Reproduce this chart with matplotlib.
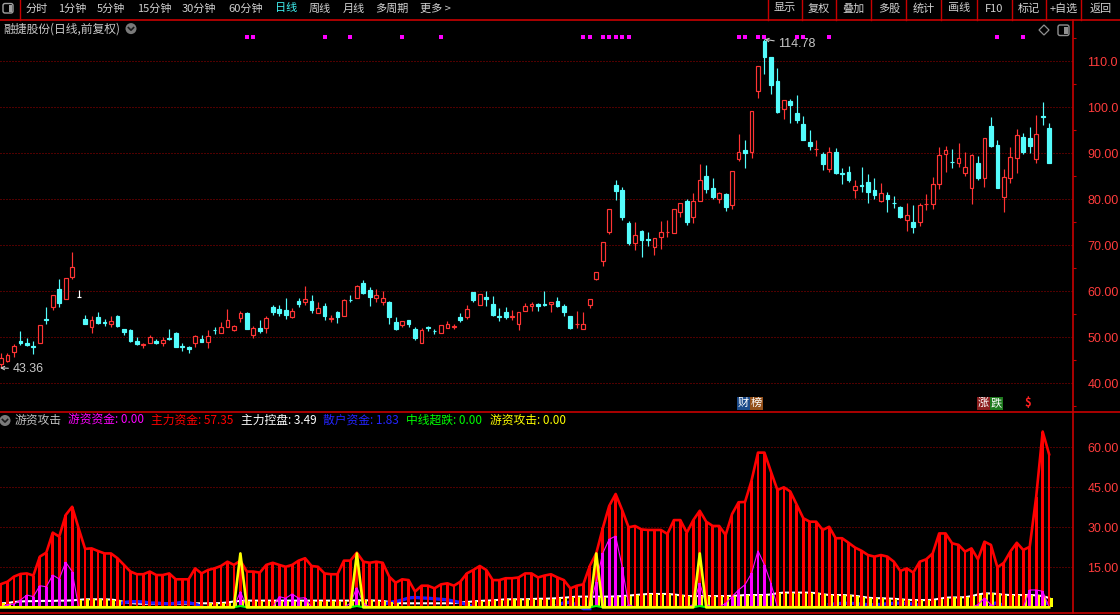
import numpy as np
import matplotlib
matplotlib.use("Agg")
import matplotlib.pyplot as plt
from matplotlib.patches import FancyBboxPatch, Circle, Polygon, Rectangle

plt.rcParams['font.family'] = ['Noto Sans CJK SC', 'DejaVu Sans']

# daily candles (前复权)
opens = [
    44.3, 44.9, 46.9, 49.2, 48.75, 48.1, 48.7, 54.0, 56.65, 60.5,
    58.4, 63.2, 58.7, 54.0, 52.2, 54.4, 53.3, 52.8, 54.6, 51.8,
    51.6, 49.3, 48.4, 48.7, 49.3, 48.8, 49.8, 50.9, 48.0, 47.9,
    48.8, 49.6, 49.05, 51.6, 51.0, 52.2, 51.65, 54.25, 55.3, 50.5,
    52.0, 52.1, 56.6, 56.15, 55.9, 54.4, 57.95, 57.6, 57.9, 55.35,
    56.8, 54.05, 55.5, 54.7, 58.2, 58.6, 61.7, 60.3, 58.6, 57.75,
    57.7, 53.3, 52.7, 53.7, 51.8, 48.7, 52.15, 51.35, 50.9, 52.1,
    52.3, 54.5, 54.5, 59.8, 56.95, 58.8, 57.25, 54.55, 55.5, 54.45,
    52.8, 55.8, 56.7, 57.2, 57.2, 57.2, 57.9, 56.7, 54.6, 52.8,
    51.7, 57.1, 62.75, 66.65, 72.95, 83.1, 82.0, 74.8, 70.4, 73.05,
    71.2, 69.55, 71.7, 72.8, 72.6, 77.3, 79.6, 76.1, 79.7, 85.05,
    82.45, 80.0, 81.15, 78.7, 88.7, 90.7, 90.2, 103.6, 114.5, 110.85,
    105.7, 99.7, 101.35, 98.75, 96.35, 92.45, 90.85, 89.8, 86.5, 90.2,
    85.6, 85.85, 82.1, 82.95, 83.8, 82.0, 79.7, 80.9, 79.15, 78.3,
    75.6, 75.0, 75.1, 78.9, 78.9, 83.4, 89.8, 88.2, 87.8, 85.8,
    82.4, 87.8, 84.7, 95.9, 91.8, 80.6, 84.7, 89.05, 93.5, 93.3,
    88.8, 98.0, 95.6,
]
highs = [
    46.5, 46.5, 48.5, 51.4, 49.9, 49.2, 52.6, 56.5, 59.1, 62.7,
    63.0, 68.5, 60.2, 54.85, 54.6, 55.5, 54.0, 54.55, 54.85, 51.8,
    51.8, 50.0, 48.7, 50.4, 49.6, 50.0, 51.7, 51.1, 48.7, 48.1,
    50.6, 50.6, 51.6, 52.2, 53.25, 56.1, 52.6, 55.7, 55.6, 52.45,
    53.7, 54.7, 57.0, 57.0, 58.5, 56.3, 58.5, 61.15, 59.2, 57.6,
    57.5, 54.85, 55.7, 58.25, 59.3, 61.4, 62.5, 60.9, 60.6, 60.1,
    57.9, 54.5, 53.5, 53.7, 52.2, 51.95, 52.5, 51.7, 52.6, 53.6,
    53.0, 55.35, 57.0, 59.9, 59.4, 60.1, 59.0, 56.3, 56.5, 55.9,
    55.5, 57.4, 57.6, 57.5, 60.1, 57.6, 58.7, 57.2, 54.6, 55.7,
    55.6, 58.25, 64.1, 70.65, 77.8, 84.2, 82.6, 75.35, 75.0, 73.3,
    72.9, 71.5, 75.3, 75.5, 78.0, 79.3, 80.0, 81.3, 87.7, 87.45,
    84.55, 81.6, 81.4, 86.1, 94.3, 92.9, 99.1, 108.9, 114.78, 110.85,
    108.5, 101.7, 101.8, 102.7, 98.1, 95.1, 92.9, 90.35, 91.4, 91.1,
    86.9, 87.2, 84.2, 87.1, 85.5, 84.55, 83.5, 81.5, 80.7, 78.5,
    79.1, 78.75, 79.3, 81.15, 84.9, 91.3, 91.65, 90.9, 92.2, 90.35,
    89.8, 89.4, 93.25, 97.8, 92.9, 86.6, 91.3, 95.3, 94.5, 95.8,
    98.3, 101.15, 96.5,
]
lows = [
    43.36, 44.7, 45.8, 48.3, 48.1, 46.4, 48.7, 53.0, 55.9, 56.65,
    58.3, 62.7, 58.7, 52.96, 51.0, 53.0, 52.5, 52.3, 52.3, 50.6,
    49.05, 48.3, 47.7, 48.7, 48.6, 48.2, 49.4, 48.0, 47.1, 46.65,
    47.8, 49.05, 47.7, 50.8, 51.0, 52.2, 51.4, 53.3, 51.7, 49.9,
    51.0, 51.0, 54.9, 54.6, 54.05, 54.25, 56.65, 57.0, 55.35, 55.35,
    53.8, 53.25, 53.2, 54.7, 57.6, 58.6, 59.4, 56.7, 57.75, 57.0,
    53.0, 51.6, 52.3, 52.2, 49.4, 48.7, 51.45, 50.8, 50.9, 52.1,
    51.8, 53.4, 53.9, 57.75, 56.95, 56.8, 54.6, 53.6, 53.9, 53.8,
    51.6, 55.8, 55.8, 55.8, 56.7, 55.6, 56.5, 54.6, 51.7, 52.1,
    51.7, 56.4, 62.5, 65.6, 72.45, 79.8, 75.5, 70.1, 69.0, 67.5,
    69.8, 67.9, 69.3, 71.9, 72.6, 76.2, 74.4, 74.9, 79.7, 81.4,
    80.0, 79.1, 77.5, 77.95, 88.4, 86.9, 88.9, 102.1, 107.2, 102.9,
    98.8, 97.5, 96.65, 96.65, 92.9, 90.7, 89.4, 86.4, 86.0, 85.6,
    83.3, 83.8, 80.35, 81.65, 79.3, 80.0, 79.5, 77.3, 78.2, 75.9,
    73.2, 72.6, 74.3, 77.7, 77.9, 82.2, 86.0, 86.9, 87.1, 85.1,
    78.9, 84.3, 82.75, 91.3, 82.5, 77.3, 83.5, 85.8, 89.85, 90.0,
    88.0, 96.15, 88.0,
]
closes = [
    45.4, 46.15, 48.1, 48.7, 48.3, 48.0, 52.6, 53.8, 59.1, 57.4,
    63.0, 65.2, 58.7, 52.96, 53.7, 53.2, 53.2, 53.5, 52.5, 51.2,
    49.3, 48.6, 48.5, 50.0, 48.8, 49.4, 49.6, 48.0, 47.9, 47.5,
    50.35, 49.05, 50.35, 51.5, 52.3, 53.8, 52.4, 55.3, 51.7, 52.0,
    51.4, 54.2, 55.4, 55.3, 54.9, 55.7, 57.3, 58.25, 55.9, 56.3,
    54.6, 54.2, 54.5, 58.1, 58.1, 61.15, 59.7, 58.8, 59.2, 58.5,
    54.5, 51.9, 53.5, 52.9, 49.9, 51.6, 52.1, 51.3, 52.6, 53.0,
    52.4, 53.8, 56.1, 58.1, 59.4, 58.3, 54.85, 54.5, 54.5, 54.5,
    55.5, 56.8, 57.2, 56.8, 57.1, 57.6, 56.7, 55.6, 51.95, 52.9,
    53.0, 58.25, 64.1, 70.65, 77.8, 81.9, 76.2, 70.6, 72.2, 71.15,
    71.15, 71.5, 72.8, 72.9, 78.0, 79.3, 75.1, 79.7, 84.3, 82.3,
    80.6, 81.3, 78.4, 86.1, 90.2, 90.1, 99.1, 108.9, 111.0, 104.8,
    99.0, 101.7, 100.6, 97.2, 92.9, 91.6, 90.9, 87.7, 90.2, 85.8,
    85.55, 84.2, 82.9, 82.9, 81.6, 81.0, 81.4, 80.1, 79.1, 76.1,
    76.5, 74.05, 78.75, 79.0, 83.3, 89.6, 90.7, 88.1, 88.9, 87.0,
    89.6, 84.7, 93.25, 91.7, 82.5, 84.8, 89.2, 93.9, 90.3, 91.6,
    94.3, 97.9, 88.0,
]
# days flagged with a magenta square above the candles
signal_days = [38, 39, 50, 54, 62, 68, 90, 91, 93, 94, 95, 96, 97,
               114, 115, 117, 118, 123, 124, 128, 154, 158]

# 游资攻击 indicator panel
main_force = [  # 主力资金
    8.7, 9.6, 11.5, 12.5, 12.7, 11.9, 19.0, 20.5, 28.0, 26.5,
    34.6, 37.7, 29.6, 21.9, 22.1, 21.1, 20.2, 20.2, 18.4, 15.9,
    13.4, 12.4, 12.4, 13.4, 12.1, 12.1, 12.7, 10.5, 10.5, 10.5,
    14.6, 12.7, 14.0, 14.6, 15.5, 17.1, 15.9, 17.5, 13.4, 13.4,
    13.0, 15.9, 16.7, 15.9, 15.2, 15.9, 17.5, 18.4, 15.5, 15.2,
    12.7, 12.4, 12.4, 17.5, 17.5, 20.5, 17.1, 16.7, 17.1, 16.7,
    11.5, 9.2, 10.5, 10.2, 5.9, 8.1, 8.1, 7.1, 8.6, 9.0,
    8.1, 9.6, 12.7, 14.0, 15.5, 14.0, 10.2, 10.2, 10.9, 10.9,
    11.2, 12.7, 12.7, 11.2, 11.9, 12.4, 11.2, 10.2, 7.1, 8.1,
    8.6, 15.5, 20.2, 29.6, 38.0, 42.5, 36.5, 30.0, 30.5, 29.2,
    29.0, 29.0, 29.0, 27.5, 32.7, 32.7, 28.0, 32.7, 36.2, 32.1,
    30.5, 30.5, 27.1, 35.0, 39.4, 39.5, 47.5, 58.0, 58.0, 50.9,
    44.0, 45.0, 43.4, 38.4, 33.4, 32.1, 32.1, 29.0, 30.2, 25.9,
    25.9, 24.2, 22.4, 21.2, 19.6, 19.0, 19.6, 19.0, 17.1, 13.6,
    14.6, 13.0, 17.1, 18.0, 20.2, 27.7, 27.7, 24.0, 23.4, 20.9,
    22.1, 18.0, 24.6, 23.4, 15.0, 16.7, 20.9, 24.2, 21.5, 22.7,
    41.5, 65.9, 57.35,
]
control = [  # 主力控盘
    1.5, 1.6, 2.0, 2.2, 2.3, 2.3, 2.4, 2.4, 2.4, 2.5,
    2.5, 2.6, 2.8, 3.0, 3.0, 3.0, 3.0, 2.9, 2.6, 2.0,
    1.6, 1.4, 1.3, 1.3, 1.3, 1.3, 1.3, 1.3, 1.4, 1.4,
    1.5, 1.5, 1.5, 1.5, 1.6, 1.8, 2.2, 2.4, 2.5, 2.5,
    2.5, 2.5, 2.5, 2.5, 2.5, 2.5, 2.5, 2.5, 2.5, 2.5,
    2.5, 2.5, 2.5, 2.5, 2.5, 2.6, 2.6, 2.6, 2.5, 2.4,
    2.0, 1.7, 1.5, 1.5, 1.5, 1.5, 1.5, 1.5, 1.5, 1.5,
    1.6, 1.8, 2.0, 2.2, 2.4, 2.5, 2.6, 2.8, 3.0, 3.0,
    3.0, 3.0, 3.1, 3.2, 3.2, 3.3, 3.4, 3.6, 3.8, 4.0,
    4.0, 4.0, 4.0, 4.0, 4.0, 4.1, 4.2, 4.4, 4.6, 4.8,
    5.0, 5.0, 5.0, 5.0, 4.8, 4.5, 4.2, 4.2, 4.2, 4.2,
    4.2, 4.2, 4.2, 4.3, 4.4, 4.6, 4.6, 4.6, 4.6, 4.8,
    5.3, 5.5, 5.5, 5.5, 5.5, 5.5, 5.3, 4.9, 4.6, 4.6,
    4.6, 4.5, 4.3, 4.0, 3.6, 3.4, 3.4, 3.3, 3.2, 3.0,
    2.8, 2.7, 2.7, 2.7, 2.8, 3.2, 3.6, 3.7, 3.7, 3.8,
    4.2, 4.8, 5.2, 5.2, 5.0, 4.7, 4.6, 4.6, 4.6, 4.6,
    4.5, 4.2, 3.49,
]
sticks = [  # yellow sticks under the control line
    1.5, 1.6, 0, 0, 0, 0, 0, 0, 0, 0,
    0, 0, 2.8, 3.0, 3.0, 3.0, 3.0, 2.9, 2.6, 0,
    0, 0, 0, 0, 0, 0, 0, 0, 0, 0,
    0, 0, 1.5, 1.5, 1.6, 1.8, 2.2, 2.4, 2.5, 2.5,
    2.5, 2.5, 2.5, 2.5, 2.5, 2.5, 2.5, 2.5, 2.5, 2.5,
    2.5, 2.5, 2.5, 2.5, 2.5, 2.6, 2.6, 2.6, 2.5, 2.4,
    2.0, 1.7, 0, 0, 0, 0, 0, 0, 0, 0,
    0, 0, 2.0, 2.2, 2.4, 2.5, 2.6, 2.8, 3.0, 3.0,
    3.0, 3.0, 3.1, 3.2, 3.2, 3.3, 3.4, 3.6, 3.8, 4.0,
    4.0, 4.0, 4.0, 4.0, 4.0, 4.1, 4.2, 4.4, 4.6, 4.8,
    5.0, 5.0, 5.0, 5.0, 4.8, 4.5, 4.2, 4.2, 4.2, 4.2,
    4.2, 4.2, 4.2, 4.3, 4.4, 4.6, 4.6, 4.6, 4.6, 4.8,
    5.3, 5.5, 5.5, 5.5, 5.5, 5.5, 5.3, 4.9, 4.6, 4.6,
    4.6, 4.5, 4.3, 4.0, 3.6, 3.4, 3.4, 3.3, 3.2, 3.0,
    2.8, 2.7, 2.7, 2.7, 2.8, 3.2, 3.6, 3.7, 3.7, 3.8,
    4.2, 4.8, 5.2, 5.2, 5.0, 4.7, 4.6, 4.6, 4.6, 4.6,
    4.5, 4.2, 3.49,
]
retail = [  # 散户资金
    0, 0, 0, 0, 0, 0, 0, 0, 0, 0,
    0, 0, 0, 0, 0, 0, 0, 0, 1.2, 1.8,
    2.1, 2.1, 2.0, 1.6, 1.6, 1.4, 1.3, 1.5, 1.9, 1.7,
    1.2, 0.3, 0, 0, 0, 0, 0, 0, 0, 0,
    0, 0, 0, 0, 0, 0, 0, 0, 0, 0,
    0, 0, 0, 0, 0, 0, 0, 0, 0, 1.0,
    1.8, 2.2, 2.7, 3.5, 3.7, 3.5, 3.4, 3.2, 3.0, 2.8,
    2.3, 1.8, 1.0, 0.3, 0, 0, 0, 0, 0, 0,
    0, 0, 0, 0, 0, 0, 0.8, 1.7, 1.9, 0.8,
    -0.5, -0.5, 0, 0, 0, 0, 0, 0, 0, 0,
    0, 0, 0, 0, 0, 0, 0, 0, 0, 0,
    0, 0, 0, 0, 0, 0, 0, 0, 0, 0,
    0, 0, 0, 0, 0, 0, 0, 0, 1.0, 1.3,
    1.5, 1.5, 1.4, 1.2, 1.0, 1.0, 1.1, 1.3, 1.5, 1.6,
    1.4, 1.2, 0.8, 0, 0, 0, 0, 0, 0, 0,
    0, 0, 0, 1.2, 1.7, 0.6, 0, 0, 0, 0,
    0, 1.0, 1.83,
]
hot_money = [  # 游资资金
    0, 1.0, 1.2, 2.7, 4.6, 4.0, 8.1, 7.7, 12.1, 10.6,
    16.9, 13.4, 0, 0, 0, 0, 0, 0, 0, 0,
    0, 0, 0, 0, 0, 0, 0, 0, 0, 0,
    0, 0, 0, 0, 0, 0, 0, 5.9, 0, 0,
    0, 0, 0, 4.0, 3.4, 5.0, 3.4, 3.6, 0, 0,
    0, 0, 0, 0, 1.5, 7.4, 1.5, 0, 0, 0,
    0, 0, 0, 0, 0, 0, 0, 0, 0, 0,
    0, 0, 0, 0, 0, 0, 0, 0, 0, 0,
    0, 0, 0, 0, 0, 0, 0, 0, 0, 0,
    0, 0, 9.6, 20.2, 25.5, 26.7, 15.2, 1.0, 0, 0,
    0, 0, 0, 0, 0, 0, 0, 1.0, 9.0, 1.0,
    0, 0, 1.5, 4.0, 6.5, 8.5, 12.7, 21.2, 15.9, 9.0,
    0, 0, 0, 0, 0, 0, 0, 0, 0, 0,
    0, 0, 0, 0, 0, 0, 0, 0, 0, 0,
    0, 0, 0, 0, 0, 0, 0, 0, 0, 0,
    0, 1.0, 3.5, 1.0, 0, 0, 0, 0, 0, 6.5,
    6.5, 6.0, 0,
]
attack_days = [37, 55, 92, 108]      # 游资攻击 spikes
attack_level = 20.2
oversold_days = [37, 55, 92, 108]    # 中线超跌 blips
oversold_level = 0.5

price_ticks = [40, 50, 60, 70, 80, 90, 100, 110]
price_labels = ['40.00', '50.00', '60.00', '70.00', '80.00', '90.00', '100.0', '110.0']
price_minor = [35, 45, 55, 65, 75, 85, 95, 105, 115]
ind_ticks = [15, 30, 45, 60]
ind_labels = ['15.00', '30.00', '45.00', '60.00']

UP = '#ff3434'
STICK_RED = '#ff0000'
DOWN = '#54fcfc'
GRID = '#a00000'
AXIS = '#c80000'
LABEL = '#ff3c3c'
TEXT = '#c8c8c8'
W, H = 1120, 615


def style_axis(ax, ticks, labels, minor=None):
    for side in ('top', 'left', 'bottom'):
        ax.spines[side].set_visible(False)
    ax.spines['right'].set_color(AXIS)
    ax.spines['right'].set_linewidth(1.2)
    ax.xaxis.set_visible(False)
    ax.yaxis.tick_right()
    ax.set_yticks(ticks)
    ax.set_yticklabels(labels, fontfamily='Liberation Sans', fontsize=9, color=LABEL)
    ax.tick_params(axis='y', which='major', length=0, pad=10.6)
    if minor:
        ax.set_yticks(minor, minor=True)
        ax.tick_params(axis='y', which='minor', length=2.5, width=0.8,
                       color=AXIS, direction='out')
    for t in ticks:
        ax.axhline(t, color=GRID, lw=0.72, ls=(0, (1, 2)), zorder=0)


def main():
    o = np.array(opens)
    h = np.array(highs)
    l = np.array(lows)
    c = np.array(closes)
    n = len(c)
    x = np.arange(n)

    fig = plt.figure(figsize=(11.2, 6.15), dpi=100, facecolor='black')
    ax_k = fig.add_axes([0, (H - 411.7) / H, 1072.5 / W, (411.7 - 19.6) / H],
                        facecolor='black')
    ax_f = fig.add_axes([0, (H - 613.3) / H, 1072.5 / W, (613.3 - 411.7) / H],
                        facecolor='black')
    xlim = (-1 / 6.47, 1071.5 / 6.47)
    ax_k.set_xlim(*xlim)
    ax_f.set_xlim(*xlim)
    ax_k.set_ylim(33.83, 119.07)
    ax_f.set_ylim(-2.25, 73.35)
    style_axis(ax_k, price_ticks, price_labels, price_minor)
    style_axis(ax_f, ind_ticks, ind_labels)

    # candles
    colors = np.where(c > o, UP, np.where(c < o, DOWN, '#ffffff'))
    top = np.maximum(o, c)
    bot = np.minimum(o, c)
    ax_k.vlines(x, top, h, colors=colors, lw=0.85, zorder=2)
    ax_k.vlines(x, l, bot, colors=colors, lw=0.85, zorder=2)
    body = np.maximum(top - bot, 0.12)
    up = c > o
    ax_k.bar(x[up], body[up], bottom=bot[up], width=0.58, facecolor='black',
             edgecolor=UP, lw=0.85, zorder=3)
    dn = c < o
    ax_k.bar(x[dn], body[dn], bottom=bot[dn], width=0.58, facecolor=DOWN,
             edgecolor=DOWN, lw=0.85, zorder=3)
    fl = c == o
    ax_k.bar(x[fl], body[fl], bottom=bot[fl], width=0.58, facecolor='white',
             edgecolor='white', lw=0.85, zorder=3)

    ax_k.scatter(signal_days, [0.956] * len(signal_days), marker='s', s=6,
                 color='#ff00ff', linewidths=0, transform=ax_k.get_xaxis_transform(),
                 zorder=4)

    imax = int(np.argmax(h))
    ax_k.annotate(f'{h[imax]:.2f}', xy=(imax, h[imax]), xytext=(10, -3.6),
                  textcoords='offset points', ha='left', va='center', color=TEXT,
                  fontfamily='Liberation Sans', fontsize=9,
                  arrowprops=dict(arrowstyle='->', color=TEXT, lw=0.8,
                                  shrinkA=1, shrinkB=0, mutation_scale=6))
    imin = int(np.argmin(l))
    ax_k.annotate(f'{l[imin]:.2f}', xy=(imin - 0.15, l[imin]), xytext=(9, -1),
                  textcoords='offset points', ha='left', va='center', color=TEXT,
                  fontfamily='Liberation Sans', fontsize=9,
                  arrowprops=dict(arrowstyle='->', color=TEXT, lw=0.8,
                                  shrinkA=1, shrinkB=0, mutation_scale=6))

    # indicator panel
    attack = np.zeros(n)
    attack[attack_days] = attack_level
    oversold = np.zeros(n)
    oversold[oversold_days] = oversold_level
    rt = np.array(retail, dtype=float)
    rt_show = np.where(rt != 0, rt, np.nan)

    ax_f.plot(x, control, color='white', lw=1.5, zorder=2)
    ax_f.plot(x, rt_show, color='#1c1cff', lw=2.4, zorder=3)
    ax_f.bar(x, sticks, width=0.55, align='edge', color='#ffff00', zorder=3)
    ax_f.bar(x, main_force, width=0.42, color=STICK_RED, zorder=4)
    ax_f.plot(x, main_force, color=STICK_RED, lw=1.9, zorder=5)
    ax_f.bar(x, hot_money, width=0.44, color='#ff00ff', zorder=6)
    ax_f.plot(x, hot_money, color='#ff00ff', lw=0.8, zorder=6)
    ax_f.plot(x, oversold, color='#00ff00', lw=1.5, zorder=7)
    ax_f.plot(x, attack, color='#ffff00', lw=1.9, zorder=8)

    # overlay in pixel coordinates for the terminal chrome
    ov = fig.add_axes([0, 0, 1, 1])
    ov.set_xlim(0, W)
    ov.set_ylim(H, 0)
    ov.axis('off')
    ov.patch.set_alpha(0)

    for y in (19.6, 411.7, 613.3):
        ov.plot([0, W], [y, y], color=AXIS, lw=1.2)
    for sx in (20.4, 767.9, 801.8, 836.4, 871.4, 906.4, 941.4, 976.8,
               1011.8, 1046.4, 1081.4):
        ov.plot([sx, sx], [0, 19.6], color=AXIS, lw=1.0)

    ov.add_patch(FancyBboxPatch((3, 3.5), 10, 9.5, boxstyle='round,pad=0,rounding_size=2',
                                fill=False, ec='#a0a0a0', lw=1.0))
    ov.add_patch(Rectangle((8.5, 5), 3, 6.5, color='#a0a0a0', lw=0))

    left_items = [('分时', 25.7), ('1分钟', 57.9), ('5分钟', 97), ('15分钟', 137),
                  ('30分钟', 182), ('60分钟', 228.6), ('日线', 275), ('周线', 309),
                  ('月线', 343), ('多周期', 375), ('更多 >', 420)]
    for label, lx in left_items:
        col = '#40f0f0' if label == '日线' else '#d0d0d0'
        ov.text(lx, 8.5, label, color=col, fontsize=8, ha='left', va='center')
    right_items = ['显示', '复权', '叠加', '多股', '统计', '画线', 'F10', '标记', '+自选', '返回']
    seps = [767.9, 801.8, 836.4, 871.4, 906.4, 941.4, 976.8, 1011.8, 1046.4, 1081.4, 1120]
    for k, label in enumerate(right_items):
        ov.text((seps[k] + seps[k + 1]) / 2, 8.5, label, color='#d0d0d0', fontsize=8,
                ha='center', va='center')

    ov.text(120, 28.6, '融捷股份(日线,前复权)', color=TEXT, fontsize=8.5,
            ha='right', va='center')
    for cx, cy in ((131, 28.6), (5, 420.5)):
        ov.add_patch(Circle((cx, cy), 5.5, color='#7a7a7a', lw=0))
        ov.plot([cx - 2.6, cx, cx + 2.6], [cy - 1.0, cy + 1.6, cy - 1.0],
                color='#1a1a1a', lw=1.2)
    ov.add_patch(Polygon([(1044, 25), (1049, 30), (1044, 35), (1039, 30)],
                         closed=True, fill=False, ec='#909090', lw=0.9))
    ov.add_patch(FancyBboxPatch((1058, 25), 11, 10.5, boxstyle='round,pad=0,rounding_size=2',
                                fill=False, ec='#909090', lw=1.0))
    ov.add_patch(Rectangle((1063.5, 26.5), 4, 7.5, color='#909090', lw=0))

    # indicator legend row
    legend = [('游资攻击', 14.5, '#c0c0c0'),
              (f'游资资金: {hot_money[-1]:.2f}', 68, '#ff00ff'),
              (f'主力资金: {main_force[-1]:.2f}', 151, STICK_RED),
              (f'主力控盘: {control[-1]:.2f}', 241, 'white'),
              (f'散户资金: {retail[-1]:.2f}', 323.4, '#2424ff'),
              (f'中线超跌: {oversold[-1]:.2f}', 406.4, '#00ff00'),
              (f'游资攻击: {attack[-1]:.2f}', 490, '#ffff00')]
    for label, lx, col in legend:
        ov.text(lx, 420.5, label, color=col, fontsize=8.5, ha='left', va='center')

    # event badges above the separator
    for ch, bx, bg in (('财', 737, '#1b4a8a'), ('榜', 750, '#94501a'),
                       ('涨', 977, '#8c1e1e'), ('跌', 990, '#1e7a1e')):
        ov.add_patch(Rectangle((bx, 396.5), 13, 13, color=bg, lw=0))
        ov.text(bx + 6.5, 403, ch, color='white', fontsize=8, ha='center', va='center')
    ov.text(1028, 403, '$', color='#ff2020', fontsize=8, ha='center', va='center',
            fontweight='bold')

    fig.savefig('out.png', dpi=100, facecolor='black')


if __name__ == '__main__':
    main()
